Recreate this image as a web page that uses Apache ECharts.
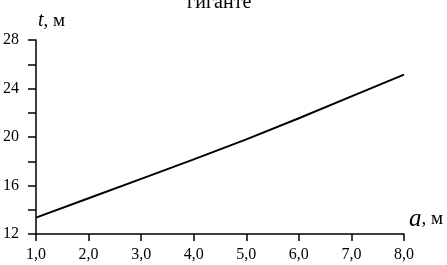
<!DOCTYPE html>
<html>
<head>
<meta charset="utf-8">
<script src="https://cdn.jsdelivr.net/npm/echarts@6/dist/echarts.min.js"></script>
<style>
  html, body { margin: 0; padding: 0; background: #fff; }
  #chart { width: 447px; height: 265px; }
</style>
</head>
<body>
<div id="chart"></div>
<script>
// a, м  ->  t, м
const aValues = [1.0, 2.0, 3.0, 4.0, 5.0, 6.0, 7.0, 8.0];
const tValues = [13.35, 14.95, 16.55, 18.15, 19.8, 21.55, 23.35, 25.15];
const yTickLabels = [12, 16, 20, 24, 28];

const serif = '"Liberation Serif", "DejaVu Serif", serif';
const chart = echarts.init(document.getElementById('chart'));

chart.setOption({
    animation: false,
    backgroundColor: '#fff',
    textStyle: { fontFamily: serif, color: '#000' },
    title: {
        text: 'гиганте',
        left: 182,
        top: -12,
        textStyle: { fontFamily: serif, fontSize: 20, fontWeight: 'normal', color: '#000' }
    },
    grid: { left: 34, right: 43, top: 40, bottom: 31 },
    xAxis: {
        type: 'value',
        min: 1,
        max: 8,
        interval: 1,
        name: '{i|a}{n|, м}',
        nameLocation: 'end',
        nameGap: 5,
        nameTextStyle: {
            align: 'left',
            verticalAlign: 'bottom',
            padding: [0, 0, 2, 0],
            rich: {
                i: { fontFamily: serif, fontStyle: 'italic', fontSize: 25, color: '#000' },
                n: { fontFamily: serif, fontSize: 19, color: '#000' }
            }
        },
        axisLine: { lineStyle: { color: '#000', width: 1.5 } },
        axisTick: { length: 7, lineStyle: { color: '#000', width: 1.5 } },
        axisLabel: {
            color: '#000',
            fontFamily: serif,
            fontSize: 16,
            margin: 13,
            formatter: v => v.toFixed(1).replace('.', ',')
        },
        splitLine: { show: false }
    },
    yAxis: {
        type: 'value',
        min: 12,
        max: 28,
        interval: 2,
        name: '{i|t}{n|, м}',
        nameLocation: 'end',
        nameGap: 9,
        nameTextStyle: {
            align: 'left',
            padding: [0, 0, 0, 2],
            rich: {
                i: { fontFamily: serif, fontStyle: 'italic', fontSize: 20, color: '#000' },
                n: { fontFamily: serif, fontSize: 19, color: '#000' }
            }
        },
        axisLine: { show: true, lineStyle: { color: '#000', width: 1.5 } },
        axisTick: { show: true, length: 8, lineStyle: { color: '#000', width: 1.5 } },
        axisLabel: {
            color: '#000',
            fontFamily: serif,
            fontSize: 16,
            margin: 17,
            formatter: v => (yTickLabels.indexOf(v) >= 0 ? String(v) : '')
        },
        splitLine: { show: false }
    },
    series: [{
        type: 'line',
        data: aValues.map((a, i) => [a, tValues[i]]),
        showSymbol: false,
        lineStyle: { color: '#000', width: 2 }
    }]
});
</script>
</body>
</html>
